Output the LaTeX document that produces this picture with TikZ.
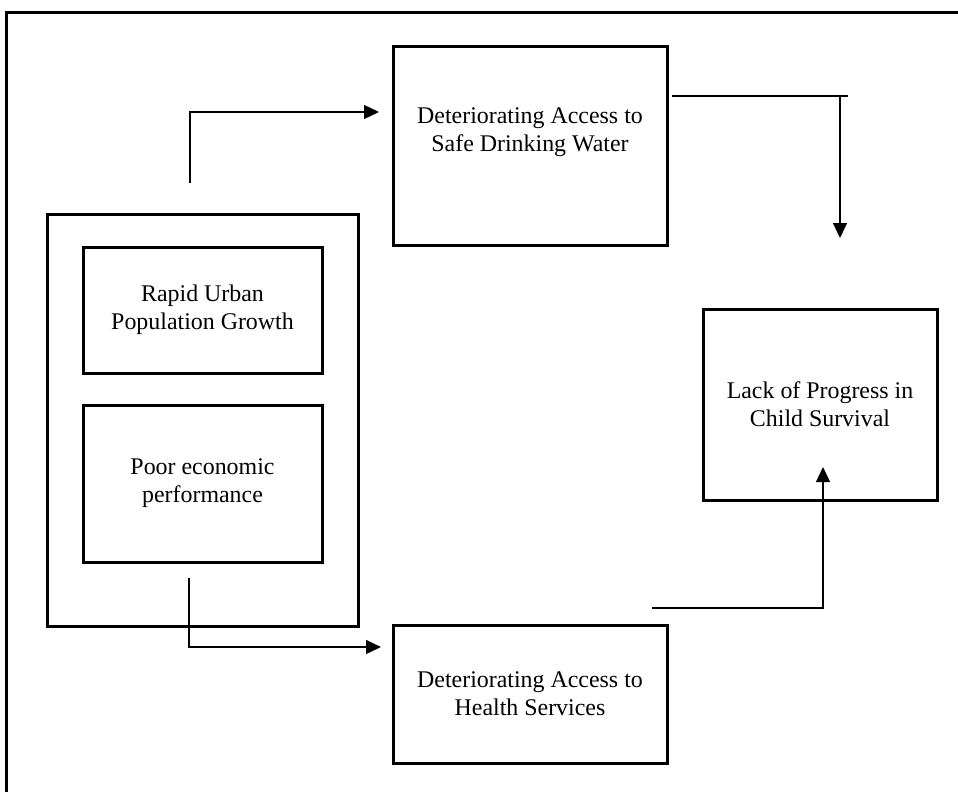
\documentclass[tikz,border=0pt]{standalone}
\usepackage{fontspec}
\setmainfont{Liberation Serif}
\usetikzlibrary{arrows.meta}
\begin{document}
\begin{tikzpicture}[x=1pt,y=-1pt,
  boxstyle/.style={draw,line width=3pt,rectangle,inner sep=0pt,outer sep=0pt,align=center,
    font=\fontsize{23.9}{28}\selectfont},
  labelstyle/.style={inner sep=0pt,align=center,font=\fontsize{23.9}{28}\selectfont},
  conn/.style={line width=1.3pt},
  arr/.style={line width=1.3pt,-{Triangle[length=15pt,width=14pt]}},
  framestyle/.style={line width=3pt}]
\useasboundingbox (0,0) rectangle (958,792);
% outer frame
\coordinate (fr1) at (6,792);
\coordinate (fr2) at (6,13);
\coordinate (fr3) at (960,13);
\draw[framestyle] (fr1) -- (fr2) -- (fr3);
% boxes
\node[boxstyle,minimum width=311pt,minimum height=412pt] (outer) at (202.5,420) {};
\node[boxstyle,minimum width=239pt,minimum height=126pt] (urban) at (202.5,310) {Rapid Urban\\Population Growth};
\node[boxstyle,minimum width=239pt,minimum height=157pt] (econ) at (202.5,483.5) {Poor economic\\performance};
\node[boxstyle,minimum width=274pt,minimum height=198pt] (water) at (530,146) {};
\node[labelstyle] (watertext) at (530,132) {Deteriorating Access to\\Safe Drinking Water};
\node[boxstyle,minimum width=234pt,minimum height=191pt] (child) at (820,404.5) {Lack of Progress in\\Child Survival};
\node[boxstyle,minimum width=274pt,minimum height=138pt] (health) at (530,694) {Deteriorating Access to\\Health Services};
% connectors
\coordinate (a1) at (190,183);
\coordinate (a2) at (190,112);
\coordinate (a3) at (379,112);
\draw[arr] (a1) -- (a2) -- (a3);
\coordinate (b1) at (672,96);
\coordinate (b2) at (848,96);
\coordinate (b3) at (840,96);
\coordinate (b4) at (840,238);
\draw[conn] (b1) -- (b2);
\draw[arr] (b3) -- (b4);
\coordinate (c1) at (189,578);
\coordinate (c2) at (189,647);
\coordinate (c3) at (381,647);
\draw[arr] (c1) -- (c2) -- (c3);
\coordinate (d1) at (652,608);
\coordinate (d2) at (823,608);
\coordinate (d3) at (823,467);
\draw[arr] (d1) -- (d2) -- (d3);
\end{tikzpicture}
\end{document}
